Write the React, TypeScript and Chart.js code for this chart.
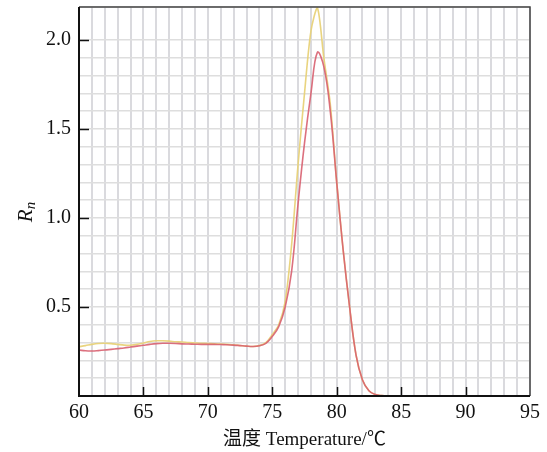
import React, { useEffect, useRef } from "react";
import { Chart, registerables } from "chart.js";

Chart.register(...registerables);

const temperatures = [
  60, 60.5, 61, 61.5, 62, 62.5, 63, 63.5, 64, 64.5, 65, 65.5, 66, 66.5, 67, 67.5,
  68, 68.5, 69, 69.5, 70, 70.5, 71, 71.5, 72, 72.5, 73, 73.5, 74, 74.5, 75, 75.5,
  76, 76.5, 77, 77.5, 78, 78.5, 79, 79.5, 80, 80.5, 81, 81.5, 82, 82.5, 83, 83.5,
  84, 84.5,
];

const yellowRn = [
  0.277, 0.283, 0.29, 0.295, 0.296, 0.294, 0.29, 0.286, 0.285, 0.29, 0.298, 0.306,
  0.31, 0.31, 0.308, 0.305, 0.303, 0.3, 0.298, 0.296, 0.295, 0.293, 0.292, 0.29,
  0.288, 0.284, 0.28, 0.278, 0.283, 0.3, 0.345, 0.4, 0.53, 0.85, 1.3, 1.7, 2.05,
  2.18, 1.9, 1.64, 1.2, 0.82, 0.5, 0.23, 0.09, 0.03, 0.008, 0.002, 0, 0,
];

const redRn = [
  0.258, 0.254, 0.253, 0.255, 0.258, 0.262, 0.266, 0.27, 0.275, 0.28, 0.285, 0.29,
  0.294, 0.296, 0.296, 0.295, 0.293, 0.292, 0.291, 0.29, 0.29, 0.29, 0.289, 0.288,
  0.286, 0.283, 0.28, 0.278, 0.282, 0.296, 0.335, 0.39, 0.5, 0.7, 1.08, 1.42, 1.7,
  1.93, 1.85, 1.6, 1.2, 0.82, 0.5, 0.23, 0.09, 0.03, 0.008, 0.002, 0, 0,
];

const xMajorTicks = [65, 70, 75, 80, 85, 90];
const yMajorTicks = [0.5, 1.0, 1.5, 2.0];

const FONT = "'Liberation Serif', 'Times New Roman', serif";

const framePlugin = {
  id: "frame",
  afterDraw(chart: any) {
    const { ctx, chartArea } = chart;
    const xs = chart.scales.x;
    const ys = chart.scales.y;
    ctx.save();
    ctx.strokeStyle = "#111";
    ctx.lineWidth = 1.5;
    ctx.beginPath();
    for (const v of xMajorTicks) {
      const px = Math.round(xs.getPixelForValue(v)) + 0.5;
      ctx.moveTo(px, chartArea.bottom);
      ctx.lineTo(px, chartArea.bottom - 9);
    }
    for (const v of yMajorTicks) {
      const py = Math.round(ys.getPixelForValue(v)) + 0.5;
      ctx.moveTo(chartArea.left, py);
      ctx.lineTo(chartArea.left + 10, py);
    }
    ctx.stroke();
    ctx.strokeStyle = "#444";
    ctx.lineWidth = 1.5;
    ctx.beginPath();
    ctx.moveTo(chartArea.left, chartArea.top);
    ctx.lineTo(chartArea.right, chartArea.top);
    ctx.lineTo(chartArea.right, chartArea.bottom);
    ctx.stroke();
    ctx.strokeStyle = "#111";
    ctx.lineWidth = 2;
    ctx.beginPath();
    ctx.moveTo(chartArea.left, chartArea.top);
    ctx.lineTo(chartArea.left, chartArea.bottom);
    ctx.lineTo(chartArea.right, chartArea.bottom);
    ctx.stroke();
    ctx.translate(32, 212);
    ctx.rotate(-Math.PI / 2);
    ctx.fillStyle = "#111";
    ctx.textBaseline = "alphabetic";
    ctx.font = `italic 21px ${FONT}`;
    const rW = ctx.measureText("R").width;
    ctx.font = `italic 15px ${FONT}`;
    const nW = ctx.measureText("n").width;
    const total = rW + nW;
    ctx.font = `italic 21px ${FONT}`;
    ctx.fillText("R", -total / 2, 0);
    ctx.font = `italic 15px ${FONT}`;
    ctx.fillText("n", -total / 2 + rW, 3);
    ctx.restore();
  },
};

export default function App() {
  const canvasRef = useRef<HTMLCanvasElement | null>(null);

  useEffect(() => {
    if (!canvasRef.current) return;
    const chart = new Chart(canvasRef.current, {
      type: "line",
      data: {
        labels: temperatures,
        datasets: [
          {
            label: "red",
            data: temperatures.map((t, i) => ({ x: t, y: redRn[i] })),
            borderColor: "rgba(216, 96, 112, 0.9)",
            borderWidth: 1.6,
            pointRadius: 0,
            tension: 0.4,
            fill: false,
          },
          {
            label: "yellow",
            data: temperatures.map((t, i) => ({ x: t, y: yellowRn[i] })),
            borderColor: "rgba(232, 210, 120, 0.95)",
            borderWidth: 1.6,
            pointRadius: 0,
            tension: 0.3,
            fill: false,
          },
        ],
      },
      options: {
        animation: false,
        responsive: false,
        maintainAspectRatio: false,
        layout: { padding: { left: 0, right: 17, top: 7, bottom: 0 } },
        plugins: {
          legend: { display: false },
          tooltip: { enabled: false },
        },
        scales: {
          x: {
            type: "linear",
            min: 60,
            max: 95,
            afterFit: (s: any) => {
              s.height = 56;
              s.paddingLeft = 0;
              s.paddingRight = 0;
            },
            ticks: {
              stepSize: 1,
              autoSkip: false,
              maxRotation: 0,
              padding: 5,
              color: "#111",
              font: { family: FONT, size: 20 },
              callback: (v: any) => (Number(v) % 5 === 0 ? String(v) : ""),
            },
            grid: {
              color: "#dadade",
              lineWidth: 2,
              drawTicks: false,
            },
            border: { display: false },
            title: {
              display: true,
              text: "温度 Temperature/℃",
              color: "#111",
              font: { family: "'Liberation Serif', 'Noto Sans CJK SC', serif", size: 19 },
              padding: { top: 0, bottom: 1 },
            },
          },
          y: {
            type: "linear",
            min: 0,
            max: 2.185,
            afterFit: (s: any) => {
              s.width = 79;
              s.paddingTop = 0;
              s.paddingBottom = 0;
            },
            ticks: {
              stepSize: 0.1,
              autoSkip: false,
              padding: 8,
              color: "#111",
              font: { family: FONT, size: 20 },
              callback: (v: any) => {
                const t = Math.round(Number(v) * 10);
                return t > 0 && t % 5 === 0 ? (t / 10).toFixed(1) : "";
              },
            },
            grid: {
              color: "#dedede",
              lineWidth: 1.5,
              drawTicks: false,
            },
            border: { display: false },
          },
        },
      },
      plugins: [framePlugin],
    });
    return () => chart.destroy();
  }, []);

  return (
    <div style={{ position: "fixed", left: 0, top: 0, width: 547, height: 452, background: "#fff" }}>
      <canvas ref={canvasRef} width={547} height={452} style={{ display: "block" }} />
    </div>
  );
}
